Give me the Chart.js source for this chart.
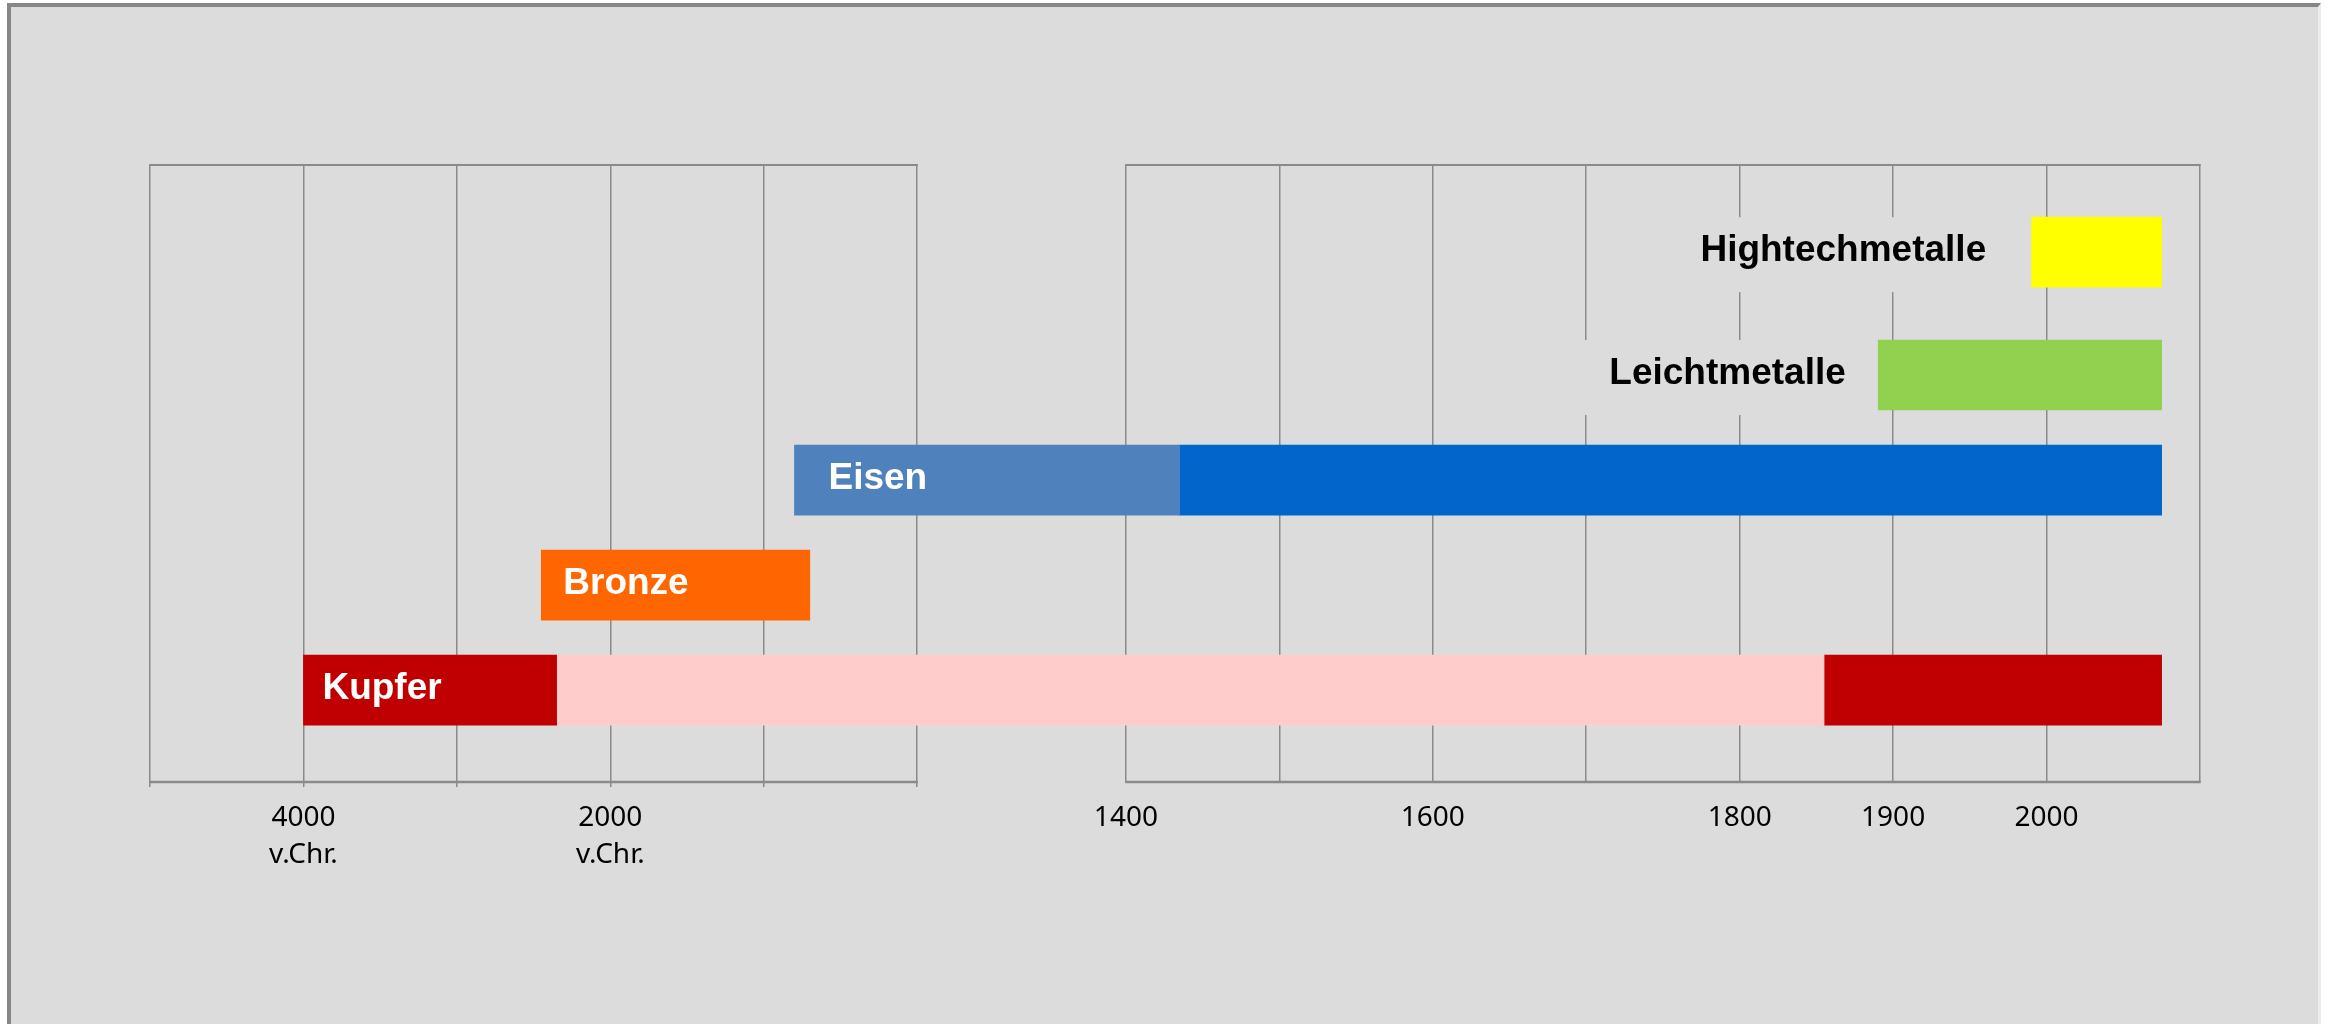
<!DOCTYPE html>
<html lang="de">
<head>
<meta charset="utf-8">
<title>Metalle im Laufe der Zeit</title>
<script src="https://cdn.jsdelivr.net/npm/chart.js@4.4.1/dist/chart.umd.min.js"></script>
<style>
    html, body { margin: 0; padding: 0; background: #fff; }
    #rahmen {
        position: absolute; left: 7px; top: 3px; width: 2314px; height: 1100px;
        box-sizing: border-box; background: #dcdcdc;
        border-left: 4px solid #878787; border-top: 4px solid #878787; border-right: 3px solid #ededed;
    }
    #wrap { position: absolute; left: 0; top: 0; width: 2331px; height: 1024px; }
</style>
</head>
<body>
<div id="rahmen"></div>
<div id="wrap"><canvas id="zeitChart"></canvas></div>
<script>
// Zeitachse in zwei Teilen: v.Chr. in 1000er-Schritten, ab 1400 in 100er-Schritten
const axisParts = [[-5000, 0, 1000], [1400, 2100, 100]];
const partGap = 1.36; // Lücke zwischen beiden Teilen, in Rasterfeldern

const tickYears = [-5000, -4000, -3000, -2000, -1000, 0, 1400, 1500, 1600, 1700, 1800, 1900, 2000, 2100];
const tickLabels = ['', ['4000', 'v.Chr.'], '', ['2000', 'v.Chr.'], '', '', '1400', '', '1600', '', '1800', '1900', '2000', ''];

const metals = ['Kupfer', 'Bronze', 'Eisen', 'Leichtmetalle', 'Hightechmetalle'];
const metalLevel = [1, 2, 3, 4, 5.17];

// Abschnittsgrenzen je Metall (Jahre, negativ = v.Chr.)
const kupferYears = [-4000, -2350, 1855, 2075];
const bronzeYears = [-2450, -700];
const eisenYears = [-800, 1435, 2075];
const leichtYears = [1890, 2075];
const hightechYears = [1990, 2075];

const segmentColors = [
    ['#c00000', '#ffcccc', '#c00000'],
    ['#ff6600'],
    ['#4f81bd', '#0066cc'],
    ['#92d050'],
    ['#ffff00']
];
const labelStyle = [
    { color: '#ffffff', align: 'inside', offset: 19 },
    { color: '#ffffff', align: 'inside', offset: 22 },
    { color: '#ffffff', align: 'inside', offset: 34 },
    { color: '#000000', align: 'before', offset: 32 },
    { color: '#000000', align: 'before', offset: 45 }
];
const plotBackground = '#dcdcdc';
const gridColor = '#8a8a8a';

function slotOf(year) {
    const [a0, a1, aStep] = axisParts[0];
    const [b0, , bStep] = axisParts[1];
    const aSlots = (a1 - a0) / aStep;
    if (year <= a1) return (year - a0) / aStep;
    if (year < b0) return aSlots + partGap * (year - a1) / (b0 - a1);
    return aSlots + partGap + (year - b0) / bStep;
}
const totalSlots = slotOf(axisParts[1][1]);

// lineare Skala mit unterbrochener Achse
class ZeitScale extends Chart.LinearScale {
    getPixelForValue(value) {
        return this.getPixelForDecimal(slotOf(value) / totalSlots);
    }
}
ZeitScale.id = 'zeit';
ZeitScale.defaults = Chart.LinearScale.defaults;
Chart.register(ZeitScale);

const yearLists = [kupferYears, bronzeYears, eisenYears, leichtYears, hightechYears];
const datasets = [];
yearLists.forEach((years, m) => {
    for (let i = 0; i < years.length - 1; i++) {
        datasets.push({
            label: metals[m],
            data: [{ x: [years[i], years[i + 1]], y: metalLevel[m] }],
            backgroundColor: segmentColors[m][i],
            metal: m,
            segment: i
        });
    }
});

const panelFrames = {
    id: 'panelFrames',
    beforeDatasetsDraw(chart) {
        const { ctx, chartArea } = chart;
        const xs = chart.scales.x;
        ctx.save();
        ctx.strokeStyle = gridColor;
        axisParts.forEach(([from, to]) => {
            const x1 = xs.getPixelForValue(from);
            const x2 = xs.getPixelForValue(to);
            ctx.lineWidth = 2;
            ctx.beginPath();
            ctx.moveTo(x1 - 0.75, chartArea.top);
            ctx.lineTo(x2 + 0.75, chartArea.top);
            ctx.stroke();
            ctx.lineWidth = 2.5;
            ctx.beginPath();
            ctx.moveTo(x1 - 0.75, chartArea.bottom);
            ctx.lineTo(x2 + 0.75, chartArea.bottom);
            ctx.stroke();
        });
        ctx.restore();
    }
};

const metalLabels = {
    id: 'metalLabels',
    afterDatasetsDraw(chart) {
        const ctx = chart.ctx;
        ctx.save();
        ctx.font = 'bold 37px "Liberation Sans", Arial, sans-serif';
        ctx.textBaseline = 'middle';
        chart.data.datasets.forEach((ds, di) => {
            if (ds.segment !== 0) return;
            const bar = chart.getDatasetMeta(di).data[0];
            const style = labelStyle[ds.metal];
            const text = metals[ds.metal];
            const left = Math.min(bar.x, bar.base);
            const top = bar.y - bar.height / 2;
            if (style.align === 'inside') {
                ctx.textAlign = 'left';
                ctx.fillStyle = style.color;
                ctx.fillText(text, left + style.offset, bar.y - 1);
            } else {
                const right = left - style.offset;
                const boxLeft = right - ctx.measureText(text).width - 30;
                ctx.fillStyle = plotBackground;
                ctx.fillRect(boxLeft, top, left - boxLeft, bar.height + 5);
                ctx.textAlign = 'right';
                ctx.fillStyle = style.color;
                ctx.fillText(text, right, bar.y - 1);
            }
        });
        ctx.restore();
    }
};

Chart.defaults.font.family = '"Noto Sans", sans-serif';

new Chart(document.getElementById('zeitChart'), {
    type: 'bar',
    data: { datasets: datasets },
    options: {
        indexAxis: 'y',
        responsive: true,
        maintainAspectRatio: false,
        animation: false,
        events: [],
        grouped: false,
        barThickness: 70,
        layout: { padding: { left: 150, right: 131, top: 165, bottom: 142 } },
        plugins: {
            legend: { display: false },
            tooltip: { enabled: false }
        },
        scales: {
            x: {
                type: 'zeit',
                min: -5000,
                max: 2100,
                afterBuildTicks(scale) {
                    scale.ticks = tickYears.map(v => ({ value: v }));
                },
                afterFit(scale) {
                    scale.height = 100;
                },
                ticks: {
                    autoSkip: false,
                    maxRotation: 0,
                    minRotation: 0,
                    padding: 13,
                    color: '#000',
                    font: { size: 28, lineHeight: 1.3 },
                    callback: (value, index) => tickLabels[index]
                },
                grid: {
                    color: gridColor,
                    lineWidth: 1.5,
                    tickLength: 5,
                    tickWidth: 1.5,
                    tickColor: c => (c.index <= 5 ? gridColor : 'rgba(0,0,0,0)')
                },
                border: { display: false }
            },
            y: {
                type: 'linear',
                min: 0.125,
                max: 6,
                offset: false,
                display: false,
                grid: { display: false }
            }
        }
    },
    plugins: [panelFrames, metalLabels]
});
</script>
</body>
</html>
